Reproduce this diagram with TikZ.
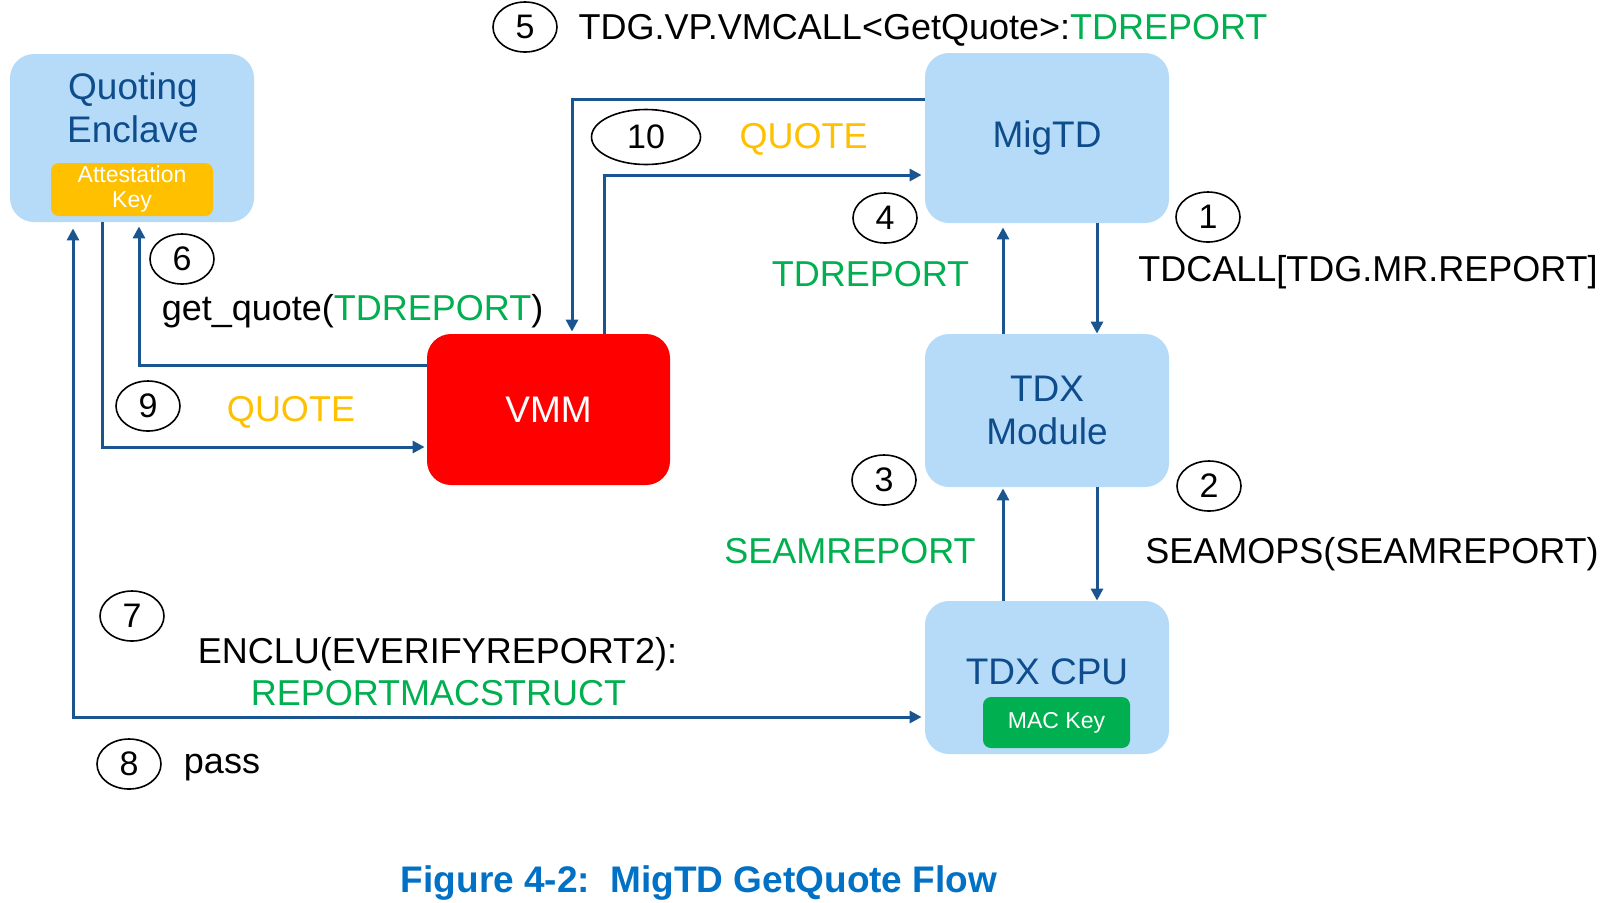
\documentclass[tikz,border=0pt]{standalone}
\usepackage{fontspec}
\setmainfont{Liberation Sans}
\usetikzlibrary{shapes.geometric,arrows.meta}
\definecolor{boxblue}{HTML}{B5DBF9}
\definecolor{boxtext}{HTML}{0E4C8C}
\definecolor{arrowblue}{HTML}{1A5590}
\definecolor{tgreen}{HTML}{00B050}
\definecolor{torange}{HTML}{FFC000}
\definecolor{capblue}{HTML}{0071C5}
\definecolor{vmmred}{HTML}{FF0000}
\begin{document}
\begin{tikzpicture}[x=0.5pt,y=-0.5pt,
  box/.style={fill=boxblue, rounded corners=12pt, inner sep=0pt, text=boxtext,
    font=\fontsize{18.5}{21.5}\selectfont, align=center},
  boxlabel/.style={inner sep=0pt, text=boxtext, font=\fontsize{18.5}{21.5}\selectfont, align=center},
  keybox/.style={rounded corners=4pt, inner sep=0pt, text=white,
    font=\fontsize{11.5}{12.5}\selectfont, align=center},
  num/.style={draw=black, ellipse, line width=0.8pt, inner sep=0pt,
    minimum width=32pt, minimum height=25pt, font=\fontsize{17}{20}\selectfont},
  lbl/.style={inner sep=0pt, font=\fontsize{18}{21}\selectfont, anchor=base},
  tip/.tip={Triangle[width=6pt,length=6pt]},
  arr/.style={draw=arrowblue, line width=1.5pt, -tip},
  arrboth/.style={draw=arrowblue, line width=1.5pt, tip-tip}
]
\path[use as bounding box, fill=white] (0,0) rectangle (1612,902);

% boxes
\node[box, minimum width=122pt, minimum height=84pt] (qe) at (132,138) {};
\node[boxlabel] (qet) at (133,108) {Quoting\\Enclave};
\node[keybox, fill=torange, minimum width=81pt, minimum height=26.5pt] (ak) at (132,189.5) {Attestation\\Key};
\node[box, minimum width=122pt, minimum height=85pt] (mig) at (1047,138) {MigTD};
\node[box, minimum width=122pt, minimum height=76.5pt] (tdxm) at (1047,410.5) {TDX\\Module};
\node[box, minimum width=122pt, minimum height=76.5pt] (cpu) at (1047,677.5) {};
\node[boxlabel] (cput) at (1047,672) {TDX CPU};
\node[keybox, fill=tgreen, minimum width=73.5pt, minimum height=25.5pt] (mk) at (1056.5,722.5) {MAC Key};
\node[box, fill=vmmred, text=white, minimum width=121.5pt, minimum height=75.5pt] (vmm) at (548.5,409.5) {VMM};

% step numbers
\node[num] (n1) at (1208,217) {1};
\node[num] (n2) at (1209,486) {2};
\node[num] (n3) at (884,480) {3};
\node[num] (n4) at (885,218) {4};
\node[num] (n5) at (525,27) {5};
\node[num] (n6) at (182,259) {6};
\node[num] (n7) at (132,616) {7};
\node[num] (n8) at (129,764) {8};
\node[num] (n9) at (148,406) {9};
\node[num, minimum width=54.5pt, minimum height=27.5pt] (n10) at (646,137) {10};

% labels
\node[lbl] (l5) at (923,39) {TDG.VP.VMCALL<GetQuote>:\textcolor{tgreen}{TDREPORT}};
\node[lbl, text=torange] (l10) at (803.5,148) {QUOTE};
\node[lbl, text=tgreen] (l4) at (870.5,286) {TDREPORT};
\node[lbl] (l1) at (1368,281) {TDCALL[TDG.MR.REPORT]};
\node[lbl] (l2) at (1372,563) {SEAMOPS(SEAMREPORT)};
\node[lbl, text=tgreen] (l3) at (850,563) {SEAMREPORT};
\node[lbl] (l6) at (352.5,320) {get\_quote(\textcolor{tgreen}{TDREPORT})};
\node[lbl, text=torange] (l9) at (291,421) {QUOTE};
\node[lbl] (l7a) at (437.5,663) {ENCLU(EVERIFYREPORT2):};
\node[lbl, text=tgreen] (l7b) at (438.5,705) {REPORTMACSTRUCT};
\node[lbl] (l8) at (222,773) {pass};
\node[inner sep=0pt, anchor=base, font=\bfseries\fontsize{18.5}{21}\selectfont, text=capblue] (cap) at (699,892) {Figure 4-2:\ \ MigTD GetQuote Flow};

% helper coordinates
\coordinate (xA) at (1097,0);
\coordinate (xB) at (1003,0);
\coordinate (xC) at (572,0);
\coordinate (xD) at (604,0);
\coordinate (xE) at (139,0);
\coordinate (xF) at (102,0);
\coordinate (xG) at (73,0);
\coordinate (yA) at (0,99);
\coordinate (yB) at (0,175);
\coordinate (yC) at (0,365);
\coordinate (yD) at (0,447);
\coordinate (yE) at (0,717);

% connectors
\draw[arr] (mig.south -| xA) -- (tdxm.north -| xA);
\draw[arr, shorten >=2pt] (tdxm.north -| xB) -- (mig.south -| xB);
\draw[arr] (tdxm.south -| xA) -- (cpu.north -| xA);
\draw[arr, shorten >=0.5pt] (cpu.north -| xB) -- (tdxm.south -| xB);
\draw[arr, shorten >=1pt] (mig.west |- yA) -| (vmm.north -| xC);
\draw[arr, shorten >=1.5pt] (vmm.north -| xD) |- (mig.west |- yB);
\draw[arr, shorten >=2pt] (vmm.west |- yC) -| (qe.south -| xE);
\draw[arr, shorten >=1pt] (qe.south -| xF) |- (vmm.west |- yD);
\draw[arrboth, shorten <=3pt, shorten >=1.5pt] (qe.south -| xG) |- (cpu.west |- yE);
\end{tikzpicture}
\end{document}
